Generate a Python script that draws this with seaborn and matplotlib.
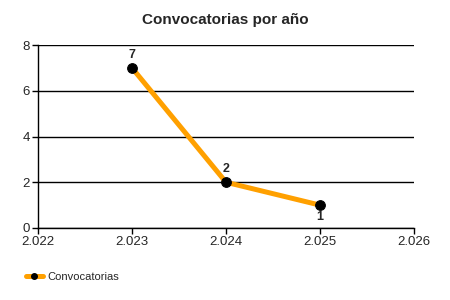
import matplotlib
matplotlib.use("Agg")
import matplotlib.pyplot as plt
import seaborn as sns
import pandas as pd
from matplotlib.ticker import FuncFormatter, MultipleLocator
from matplotlib.lines import Line2D

years = [2023, 2024, 2025]
counts = [7, 2, 1]
label_pos = ["above", "above", "below"]
series_name = "Convocatorias"
title = "Convocatorias por año"

sns.set_style("white")
plt.rcParams['font.family'] = ['Liberation Sans', 'DejaVu Sans']

df = pd.DataFrame({"year": years, "count": counts})

fig = plt.figure(figsize=(4.5, 3), dpi=100)
ax = fig.add_axes([38/450, 1-228/300, (414-38)/450, (228-45)/300])

sns.lineplot(data=df, x="year", y="count", ax=ax, color="#FFA000", linewidth=3.6,
             marker="o", markersize=7, markerfacecolor="black", markeredgecolor="black",
             legend=False)

for x, y, p in zip(years, counts, label_pos):
    if p == "above":
        ax.annotate(str(y), (x, y), xytext=(0, 5), textcoords="offset points",
                    ha="center", va="bottom", fontsize=9, fontweight="bold")
    else:
        ax.annotate(str(y), (x, y), xytext=(0, -4), textcoords="offset points",
                    ha="center", va="top", fontsize=9, fontweight="bold")

ax.set_xlim(2022, 2026)
ax.set_ylim(0, 8)
ax.xaxis.set_major_locator(MultipleLocator(1))
ax.yaxis.set_major_locator(MultipleLocator(2))
ax.xaxis.set_major_formatter(FuncFormatter(lambda v, p: format(int(round(v)), ",").replace(",", ".")))
ax.grid(axis="y", color="black", linewidth=1)
ax.set_axisbelow(True)
for s in ["top", "right"]:
    ax.spines[s].set_visible(False)
for s in ["left", "bottom"]:
    ax.spines[s].set_color("black")
    ax.spines[s].set_linewidth(1)
ax.tick_params(axis="both", which="major", length=4, width=1, color="black",
               labelsize=9.5, pad=2, bottom=True, left=True)
ax.set_xlabel("")
ax.set_ylabel("")

fig.text(0.5, 1-20/300, title, ha="center", va="center", fontsize=11, fontweight="bold")

handle = Line2D([], [], color="#FFA000", linewidth=3.6, marker="o", markersize=4,
                markerfacecolor="black", markeredgecolor="black")
fig.legend([handle], [series_name], loc="center left", bbox_to_anchor=(20/450, 1-277/300),
           frameon=False, fontsize=8, handlelength=1.6, handletextpad=0.4, borderpad=0)

fig.savefig("out.png", dpi=100)
